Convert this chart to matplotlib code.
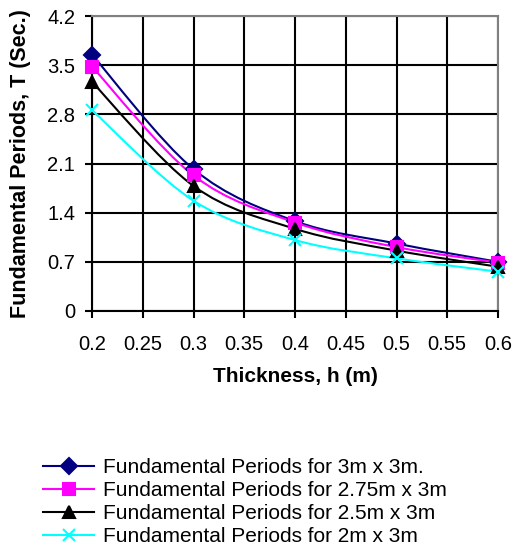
import numpy as np
import matplotlib.pyplot as plt
from matplotlib.path import Path
from matplotlib.patches import PathPatch
from matplotlib.lines import Line2D

plt.rcParams['font.family'] = ['Liberation Sans', 'DejaVu Sans']

# Data
thickness = [0.2, 0.3, 0.4, 0.5, 0.6]
t_3x3 = [3.65, 2.02, 1.28, 0.96, 0.70]
t_275x3 = [3.48, 1.93, 1.26, 0.91, 0.69]
t_25x3 = [3.26, 1.78, 1.17, 0.86, 0.63]
t_2x3 = [2.86, 1.57, 1.01, 0.75, 0.56]
labels = ["Fundamental Periods for 3m x 3m.",
          "Fundamental Periods for 2.75m x 3m",
          "Fundamental Periods for 2.5m x 3m",
          "Fundamental Periods for 2m x 3m"]
colors = ["#000080", "#ff00ff", "#000000", "#00ffff"]
markers = ["D", "s", "^", "x"]
xticks = [0.2, 0.25, 0.3, 0.35, 0.4, 0.45, 0.5, 0.55, 0.6]
yticks = [0, 0.7, 1.4, 2.1, 2.8, 3.5, 4.2]


def smooth_path(x, y):
    # Excel-like smoothed line: cubic bezier through points
    x = np.asarray(x, float)
    y = np.asarray(y, float)
    n = len(x)
    verts = [(x[0], y[0])]
    codes = [Path.MOVETO]
    for i in range(n - 1):
        x0, y0 = (x[i - 1], y[i - 1]) if i > 0 else (x[i], y[i])
        x3, y3 = (x[i + 2], y[i + 2]) if i + 2 < n else (x[i + 1], y[i + 1])
        c1 = (x[i] + (x[i + 1] - x0) / 6, y[i] + (y[i + 1] - y0) / 6)
        c2 = (x[i + 1] - (x3 - x[i]) / 6, y[i + 1] - (y3 - y[i]) / 6)
        verts += [c1, c2, (x[i + 1], y[i + 1])]
        codes += [Path.CURVE4] * 3
    return Path(verts, codes)


fig = plt.figure(figsize=(5.21, 5.49), dpi=100)
ax = fig.add_axes([92 / 521, 1 - 311 / 549, 406 / 521, 295 / 549])

series = [t_3x3, t_275x3, t_25x3, t_2x3]
msizes = [8, 8, 9, 8]
handles = []
for vals, c, m, ms, lab in zip(series, colors, markers, msizes, labels):
    ax.add_patch(PathPatch(smooth_path(thickness, vals), fill=False,
                           edgecolor=c, lw=1.5, zorder=3))
    ax.plot(thickness, vals, ls="none", marker=m, color=c, ms=ms,
            mew=1.5, zorder=4, clip_on=False)
    handles.append(Line2D([], [], color=c, lw=1.5, marker=m, ms=ms, mew=1.5))

ax.set_xlim(0.2, 0.6)
ax.set_ylim(0, 4.2)
ax.set_xticks(xticks)
ax.set_xticklabels([f"{v:g}" for v in xticks])
ax.set_yticks(yticks)
ax.set_yticklabels([f"{v:g}" for v in yticks])
ax.grid(True, color="black", lw=1.5)
ax.set_axisbelow(True)
ax.tick_params(direction="out", length=5, width=1.5, labelsize=14.5)
ax.tick_params(axis="x", pad=12)
ax.tick_params(axis="y", pad=7)
for s in ["left", "bottom"]:
    ax.spines[s].set_color("black")
    ax.spines[s].set_linewidth(1.5)
for s in ["top", "right"]:
    ax.spines[s].set_color("#808080")
    ax.spines[s].set_linewidth(1.5)

ax.set_xlabel("Thickness, h (m)", fontsize=15, fontweight="bold")
ax.xaxis.set_label_coords(0.5, -(367 - 311) / 295)
ax.set_ylabel("Fundamental Periods, T (Sec.)", fontsize=15.5, fontweight="bold")
ax.yaxis.set_label_coords((31 - 92) / 406, 0.5)

fig.legend(handles, labels, loc="upper left", bbox_to_anchor=(35 / 521, 1 - 450 / 549),
           frameon=False, fontsize=15, handlelength=2.45, handletextpad=0.42,
           labelspacing=0.19, borderaxespad=0)

plt.savefig("out.png", dpi=100)
plt.close()
